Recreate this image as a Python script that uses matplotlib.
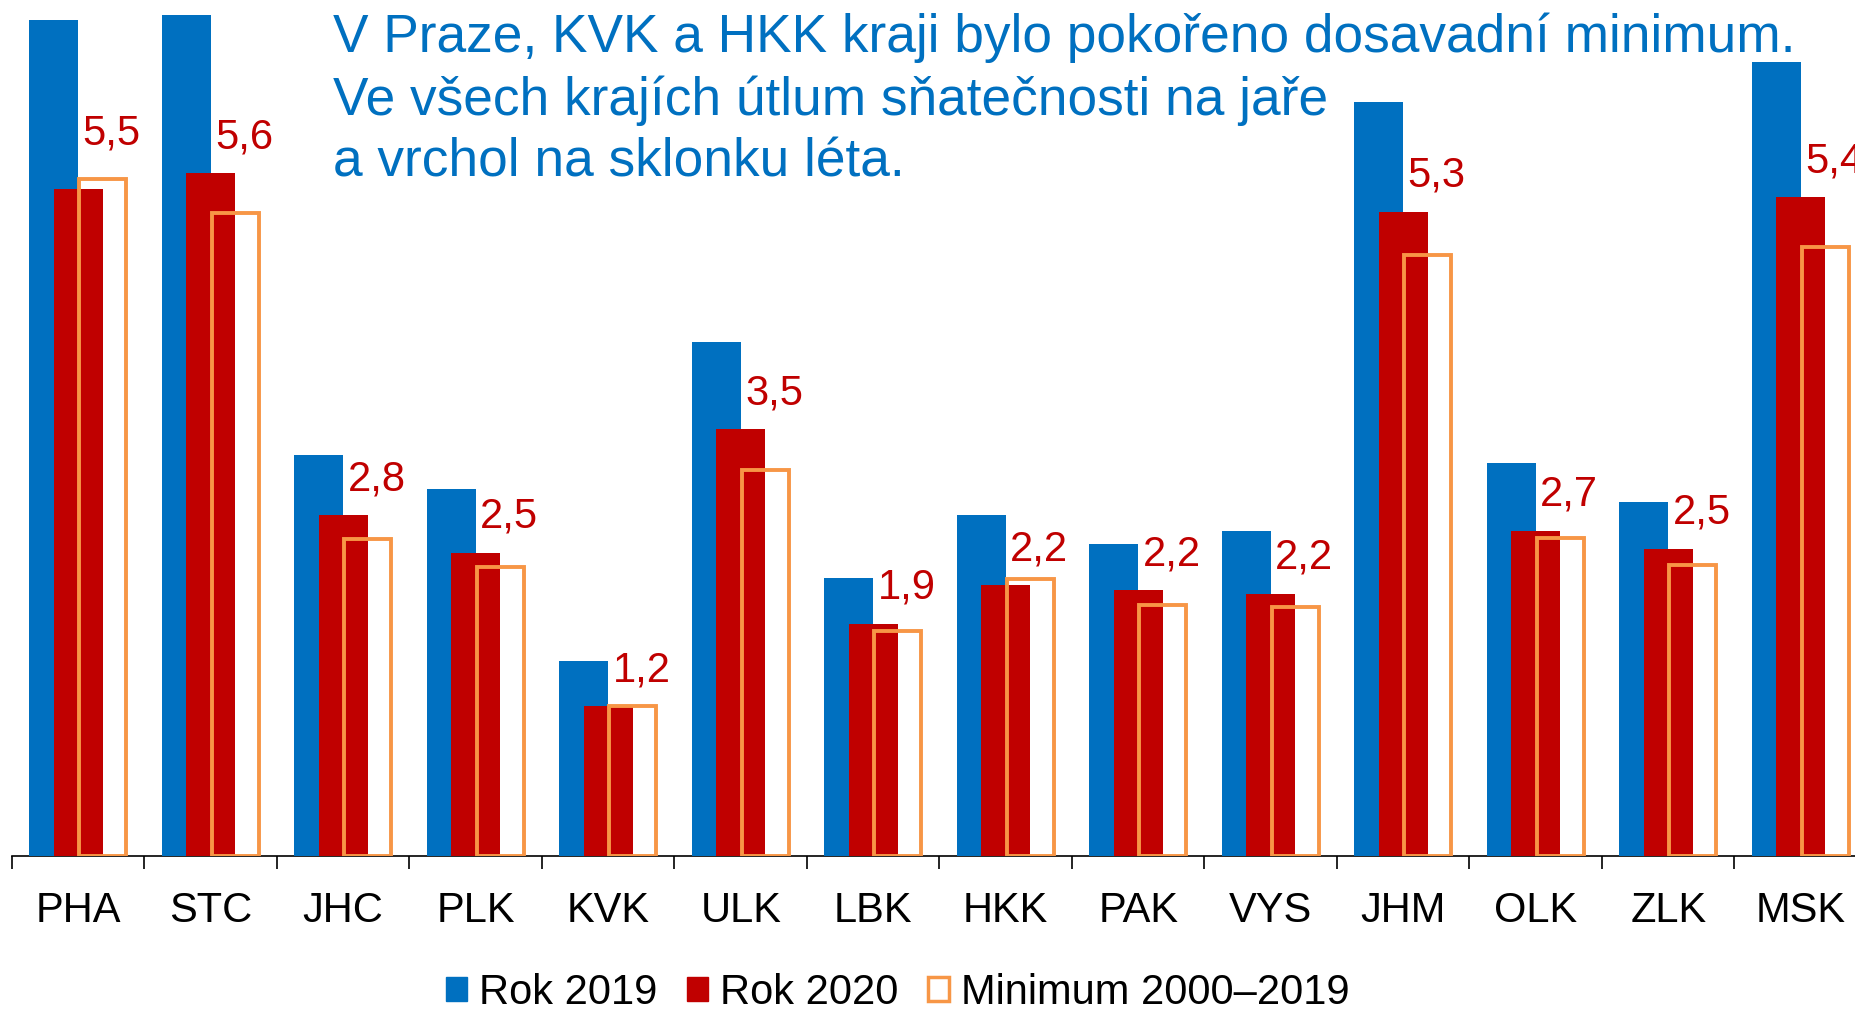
import numpy as np
import matplotlib
matplotlib.use("Agg")
import matplotlib.pyplot as plt
from matplotlib.patches import Patch

# regions (kraje), counts in thousands
regions = ["PHA", "STC", "JHC", "PLK", "KVK", "ULK", "LBK",
           "HKK", "PAK", "VYS", "JHM", "OLK", "ZLK", "MSK"]
rok_2019 = [6.92, 6.96, 3.32, 3.04, 1.61, 4.25, 2.30,
            2.82, 2.58, 2.69, 6.24, 3.25, 2.93, 6.57]
rok_2020 = [5.52, 5.649, 2.82, 2.51, 1.24, 3.53, 1.92,
            2.24, 2.20, 2.17, 5.33, 2.69, 2.54, 5.449]
minimum = [5.60, 5.32, 2.62, 2.39, 1.24, 3.19, 1.86,
           2.29, 2.08, 2.06, 4.97, 2.63, 2.41, 5.04]
title_lines = ["V Praze, KVK a HKK kraji bylo pokořeno dosavadní minimum.",
               "Ve všech krajích útlum sňatečnosti na jaře",
               "a vrchol na sklonku léta."]

BLUE = "#0070C0"
RED = "#C00000"
ORANGE = "#F79646"

plt.rcParams["font.family"] = ["Liberation Sans", "DejaVu Sans"]

W, H = 1856, 1010
fig = plt.figure(figsize=(W / 100, H / 100), dpi=100)
# axes run a bit past the right edge, like the cropped original
ax = fig.add_axes([12 / W, (H - 856) / H, (1867 - 12) / W, (856 - 10) / H])

x = np.arange(len(regions))
w = 0.37
off = 0.185
ax.bar(x - off, rok_2019, w, color=BLUE, zorder=2)
ax.bar(x, rok_2020, w, color=RED, zorder=3)
ax.bar(x + off, minimum, w - 0.015, facecolor="none", edgecolor=ORANGE,
       linewidth=2.8, zorder=4, joinstyle="miter")

# value labels for 2020, lifted a bit where the orange frame sticks out
for xi, r, m in zip(x, rok_2020, minimum):
    base = m + 0.08 if m - r > 0.06 else r
    ax.annotate(f"{r:.1f}".replace(".", ","), (xi, base), xytext=(24, 26),
                textcoords="offset points", ha="center", va="center",
                color=RED, fontsize=30)

ax.set_xlim(-0.5, len(regions) - 0.5)
ax.set_ylim(0, 7)
ax.set_yticks([])
ax.set_xticks(x)
ax.set_xticklabels(regions, fontsize=30)
ax.set_xticks(np.arange(len(regions) + 1) - 0.5, minor=True)
ax.tick_params(axis="x", which="major", length=0, pad=25)
ax.tick_params(axis="x", which="minor", length=9, width=1.2, color="black")
for s in ["top", "right", "left"]:
    ax.spines[s].set_visible(False)
ax.spines["bottom"].set_linewidth(1.2)
ax.spines["bottom"].set_zorder(1)

# headline, one text per line so the lines don't box in the bars
for i, line in enumerate(title_lines):
    fig.text(333 / W, 1 - (52 + 62.5 * i) / H, line, color=BLUE,
             fontsize=38.3, ha="left", va="baseline")

handles = [Patch(facecolor=BLUE, edgecolor=BLUE),
           Patch(facecolor=RED, edgecolor=RED),
           Patch(facecolor="white", edgecolor=ORANGE, linewidth=2.5)]
fig.legend(handles, ["Rok 2019", "Rok 2020", "Minimum 2000–2019"],
           loc="center", bbox_to_anchor=(898 / W, 1 - 993 / H), ncol=3,
           frameon=False, fontsize=30, handlelength=0.5, handleheight=0.5,
           handletextpad=0.3, columnspacing=0.7, borderpad=0)

fig.savefig("out.png", dpi=100)
